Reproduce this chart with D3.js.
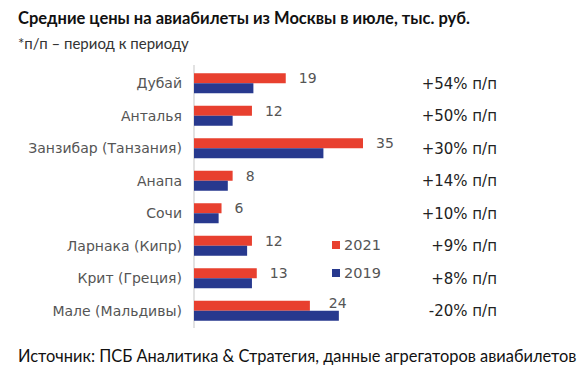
<!DOCTYPE html>
<html>
<head>
<meta charset="utf-8">
<script src="https://cdn.jsdelivr.net/npm/d3@7"></script>
<style>
  body { margin: 0; background: #fff; }
  text { font-family: "DejaVu Sans", Verdana, sans-serif; fill: #404040; }
  .head { font-family: Lato, "Open Sans", sans-serif; fill: #111; }
</style>
</head>
<body>
<svg id="chart" width="585" height="378"></svg>
<script>
const cities = ["Дубай", "Анталья", "Занзибар (Танзания)", "Анапа", "Сочи", "Ларнака (Кипр)", "Крит (Греция)", "Мале (Мальдивы)"];
const prices2021 = [19, 12, 35, 8, 5.7, 12, 13, 24];
const prices2019 = [12.3, 8, 26.8, 7, 5.1, 11, 12, 30];
const labels2021 = ["19", "12", "35", "8", "6", "12", "13", "24"];
const changes = ["+54% п/п", "+50% п/п", "+30% п/п", "+14% п/п", "+10% п/п", "+9% п/п", "+8% п/п", "-20% п/п"];
const years = ["2021", "2019"];

const red = "#e8402f", blue = "#27398e";
const svg = d3.select("#chart");

const x = d3.scaleLinear().domain([0, 35]).range([194, 363]);
const y = d3.scaleBand().domain(cities).range([67, 327]);
const inner = d3.scaleBand().domain(years).range([y.bandwidth() / 2 - 10, y.bandwidth() / 2 + 10]);

// title
svg.append("text").attr("class", "head").attr("x", 18).attr("y", 24)
    .style("font-size", "16.5px").style("font-weight", "bold")
    .text("Средние цены на авиабилеты из Москвы в июле, тыс. руб.");
svg.append("text").attr("class", "head").attr("x", 18).attr("y", 49)
    .style("font-size", "15px").style("fill", "#333")
    .text("*п/п – период к периоду");

// axis line
svg.append("line").attr("x1", x(0)).attr("x2", x(0)).attr("y1", 65).attr("y2", 328)
    .attr("stroke", "#d9d9d9").attr("stroke-width", 1.5);

const rows = svg.append("g").selectAll("g").data(cities).join("g")
    .attr("transform", d => `translate(0,${y(d)})`);

rows.append("text").attr("x", 182).attr("y", y.bandwidth() / 2).attr("dy", "0.35em")
    .attr("text-anchor", "end").style("font-size", "14px").style("fill", "#555")
    .text(d => d);

rows.append("rect").attr("x", x(0)).attr("y", inner("2021"))
    .attr("width", (d, i) => x(prices2021[i]) - x(0)).attr("height", inner.bandwidth())
    .attr("fill", red);
rows.append("rect").attr("x", x(0)).attr("y", inner("2019"))
    .attr("width", (d, i) => x(prices2019[i]) - x(0)).attr("height", inner.bandwidth())
    .attr("fill", blue);

rows.append("text")
    .attr("x", (d, i) => Math.max(x(prices2021[i]) + 13, x(prices2019[i]) - 10))
    .attr("y", (d, i) => inner("2021") + inner.bandwidth() / 2 - (prices2019[i] > prices2021[i] ? 3 : 0))
    .attr("dy", "0.35em").style("font-size", "14px").style("fill", "#555")
    .text((d, i) => labels2021[i]);

rows.append("text").attr("x", 497).attr("y", y.bandwidth() / 2).attr("dy", "0.35em")
    .attr("text-anchor", "end").style("font-size", "15px").style("fill", "#222")
    .text((d, i) => changes[i]);

// legend
const legend = svg.append("g").selectAll("g").data(years).join("g")
    .attr("transform", (d, i) => `translate(332,${245 + i * 28})`);
legend.append("rect").attr("x", 0).attr("y", -4).attr("width", 8).attr("height", 8)
    .attr("fill", (d, i) => i === 0 ? red : blue);
legend.append("text").attr("x", 12).attr("dy", "0.35em").style("font-size", "14.5px").style("fill", "#555")
    .text(d => d);

svg.append("text").attr("class", "head").attr("x", 18).attr("y", 362)
    .style("font-size", "16.4px").style("fill", "#111")
    .text("Источник: ПСБ Аналитика & Стратегия, данные агрегаторов авиабилетов");
</script>
</body>
</html>
